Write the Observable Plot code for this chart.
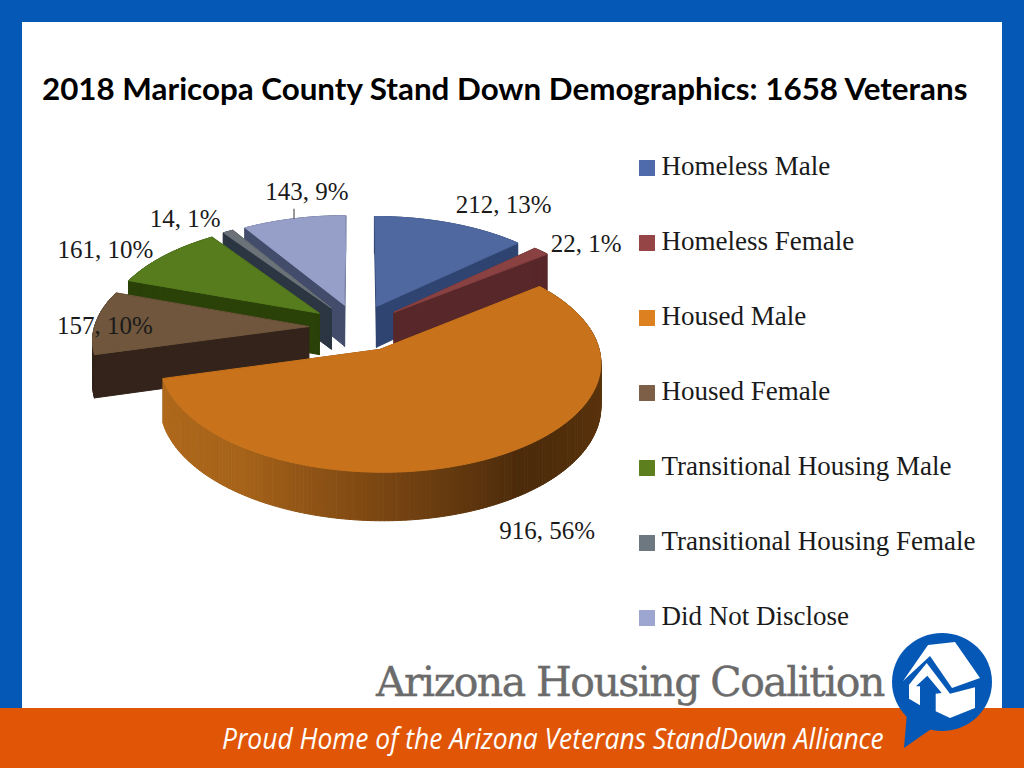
<!DOCTYPE html>
<html>
<head>
<meta charset="utf-8">
<script src="https://cdn.jsdelivr.net/npm/d3@7"></script>
<script src="https://cdn.jsdelivr.net/npm/@observablehq/plot@0.6"></script>
<style>
html,body{margin:0;padding:0;background:#fff;width:1024px;height:768px;overflow:hidden}
#slide{position:relative;width:1024px;height:768px;overflow:hidden}
#frame{position:absolute;left:0;top:0;width:1024px;height:768px;box-sizing:border-box;border:22px solid #0558b5;border-bottom:none}
#band{position:absolute;left:0;top:708px;width:1024px;height:60px;background:#e05606}
#title{position:absolute;left:42px;top:69px;font:bold 31.35px Lato,sans-serif;color:#000;white-space:nowrap}
#chart{position:absolute;left:0;top:0}
#org{position:absolute;left:376px;top:658px;font:41px "DejaVu Serif",serif;color:#6b6b6b;white-space:nowrap;letter-spacing:-1.55px;-webkit-text-stroke:.4px #6b6b6b}
#tag{position:absolute;left:222px;top:718px;font:italic 29px "Open Sans",sans-serif;color:#fff;white-space:nowrap;transform-origin:left center;transform:scaleX(.91)}
#logo{position:absolute;left:0;top:0}
</style>
</head>
<body>
<div id="slide">
  <div id="frame"></div>
  <div id="band"></div>
  <div id="title">2018 Maricopa County Stand Down Demographics: 1658 Veterans</div>
  <div id="chart"></div>
  <div id="org">Arizona Housing Coalition</div>
  <div id="tag">Proud Home of the Arizona Veterans StandDown Alliance</div>
  <svg id="logo" width="1024" height="768">
    <ellipse cx="942" cy="682" rx="50" ry="49" fill="#0558b5"/>
    <path fill="#0558b5" d="M907 712L904 748L934 727z"/>
    <path fill="#fff" d="M928 645L955 642L980 678L952 688L930 656L903 681z"/>
    <path fill="#fff" d="M926.7 663L909 684.7V698.7L920 705.3V686.3H916L927.3 675.7L941.7 693L935.7 693.7V711.3L950 718L975 708V687.3L950 693.7z"/>
  </svg>
</div>
<script>
const categories = ["Homeless Male","Homeless Female","Housed Male","Housed Female","Transitional Housing Male","Transitional Housing Female","Did Not Disclose"];
const values = [212,22,916,157,161,14,143];
const percents = [13,1,56,10,10,1,9];

const topColors  = ["#4f68a0","#8a4142","#c8731c","#6f563c","#567c1e","#6b7278","#959fc8"];
const wallColors = ["#2f4470","#57272a","#7a4612","#33231a","#2a4208","#2b3642","#434d6b"];
const legendColors = ["#4f6bab","#964546","#dc8020","#7d5f48","#5d7f1d","#6e7880","#9ca6d0"];

// 3D pie model, disc units seen through a perspective camera
const CX=357, CY=327, RX=214, RY=104, D=9, DEPTH=42, EXPLODE=0.23;
const project = (u,v,z=0) => { const p=D/(D-v); return [CX+RX*u*p, CY+RY*v*p+DEPTH*z*p]; };

const arcs = d3.pie().sort(null).value(d=>d)(values);
const mid = a => (a.startAngle+a.endAngle)/2;
const pt = (a,theta,r,z) => {
  const ex=EXPLODE*Math.sin(mid(a)), ey=-EXPLODE*Math.cos(mid(a));
  return project(ex+r*Math.sin(theta), ey-r*Math.cos(theta), z);
};
const rimShade = d3.scaleLinear()
  .domain([90,145,180,215,254].map(d=>d*Math.PI/180))
  .range(["#5e360c","#4c2b0b","#7a4612","#a66319","#b0691c"]).clamp(true);

const rows=[]; let pid=0;
const addPoly=(pts,color)=>{pid++; pts.forEach(([x,y])=>rows.push({poly:pid,x,y,color}));};
const drawOrder=[6,0,5,4,3,1,2];
for(const i of drawOrder){
  const a=arcs[i], wall=wallColors[i], top=topColors[i];
  const steps=Math.max(2,Math.ceil((a.endAngle-a.startAngle)/(Math.PI/180)));
  const thetas=d3.range(steps+1).map(k=>a.startAngle+(a.endAngle-a.startAngle)*k/steps);
  addPoly([pt(a,0,0,0),pt(a,a.startAngle,1,0),pt(a,a.startAngle,1,1),pt(a,0,0,1)],wall);
  addPoly([pt(a,0,0,0),pt(a,a.endAngle,1,0),pt(a,a.endAngle,1,1),pt(a,0,0,1)],wall);
  for(let k=0;k<steps;k++){
    const c = i===2 ? rimShade(thetas[k]) : wall;
    addPoly([pt(a,thetas[k],1,0),pt(a,thetas[k+1],1,0),pt(a,thetas[k+1],1,1),pt(a,thetas[k],1,1)],c);
  }
  addPoly([pt(a,0,0,0),...thetas.map(t=>pt(a,t,1,0))],top);
}

// label anchors follow the rim; offsets nudge the text clear of the pie
const labelDx=[53,45,55,9,-59,-43,13];
const labelDy=[-18,-7,25,3,-6,-12,-27];
const labelRows=arcs.map((a,i)=>{
  const [x,y]=pt(a,mid(a),1,i===2?1:0);
  return {x,y,text:`${values[i]}, ${percents[i]}%`,dx:labelDx[i],dy:labelDy[i]};
});
const leader=labelRows[6];

const legendRows=categories.map((name,i)=>({name,color:legendColors[i],y:167.5+75*i}));

const chart=Plot.plot({
  width:1024,height:768,margin:0,
  x:{domain:[0,1024],range:[0,1024],axis:null},
  y:{domain:[0,768],range:[0,768],axis:null},
  color:{type:"identity"},
  style:{background:"transparent"},
  marks:[
    Plot.line(rows,{x:"x",y:"y",z:"poly",fill:"color",stroke:"color",strokeWidth:1,curve:"linear-closed"}),
    Plot.link([leader],{x1:"x",x2:"x",y1:"y",y2:d=>d.y-10,stroke:"#333",strokeWidth:1}),
    ...labelRows.map(d=>Plot.text([d],{x:"x",y:"y",text:"text",dx:d.dx,dy:d.dy,fontSize:25,fontFamily:"Liberation Serif",fill:"#1a1a1a"})),
    Plot.dot(legendRows,{x:()=>646.5,y:"y",symbol:"square",r:9,fill:"color"}),
    Plot.text(legendRows,{x:()=>661,y:"y",text:"name",textAnchor:"start",fontSize:27,fontFamily:"Liberation Serif",fill:"#1a1a1a",dy:-2})
  ]
});
document.getElementById("chart").appendChild(chart);
</script>
</body>
</html>
